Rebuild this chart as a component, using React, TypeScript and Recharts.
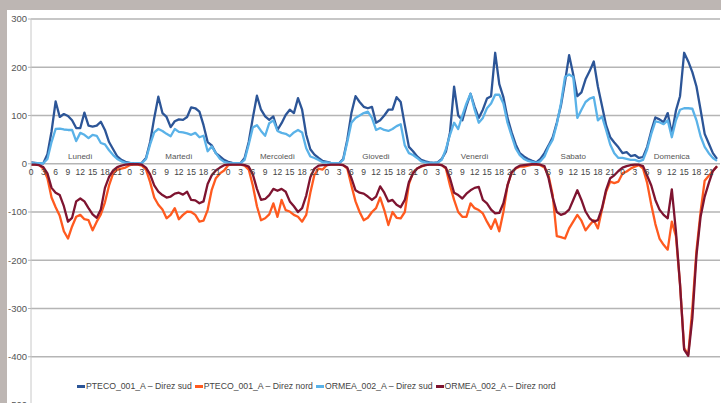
import React from "react";
import {
  LineChart,
  Line,
  XAxis,
  YAxis,
  CartesianGrid,
  Legend,
  ReferenceDot,
} from "recharts";

// one row per day, one value per hour (0..23)
const days = ["Lunedì", "Martedì", "Mercoledì", "Giovedì", "Venerdì", "Sabato", "Domenica"];
const hourTicks = [0, 3, 6, 9, 12, 15, 18, 21];
const yTicks = [-500, -400, -300, -200, -100, 0, 100, 200, 300];

const ptecoSud = [
  [3, 2, 1, 1, 20, 67, 129, 97, 103, 99, 90, 74, 74, 106, 79, 77, 79, 87, 70, 45, 30, 15, 8, 4],
  [2, 1, 1, 2, 12, 45, 95, 139, 105, 97, 76, 88, 92, 91, 97, 117, 115, 108, 80, 45, 38, 22, 15, 8],
  [4, 2, 1, 1, 12, 45, 95, 141, 112, 98, 91, 98, 70, 84, 101, 112, 105, 136, 112, 60, 30, 19, 12, 6],
  [4, 2, 1, 1, 10, 50, 105, 140, 128, 118, 115, 118, 85, 90, 100, 112, 112, 138, 128, 80, 35, 26, 15, 8],
  [5, 3, 2, 3, 10, 25, 65, 160, 100, 90, 120, 145, 118, 95, 112, 135, 140, 230, 165, 138, 95, 65, 40, 22],
  [15, 10, 6, 3, 10, 22, 38, 55, 85, 120, 170, 225, 185, 140, 148, 175, 192, 212, 160, 120, 80, 55, 44, 34],
  [22, 24, 16, 18, 12, 14, 35, 68, 96, 92, 86, 105, 62, 110, 140, 230, 212, 190, 160, 112, 62, 42, 22, 10],
];

const ptecoNord = [
  [-2, -2, -3, -10, -30, -70, -90, -108, -140, -155, -130, -110, -106, -115, -117, -138, -120, -105, -80, -45, -20, -12, -10, -8],
  [-3, -2, -2, -4, -12, -38, -70, -85, -95, -113, -106, -92, -115, -106, -99, -100, -106, -120, -118, -96, -54, -30, -20, -14],
  [-3, -2, -2, -2, -4, -12, -45, -88, -117, -113, -105, -82, -110, -75, -96, -99, -106, -110, -120, -106, -60, -23, -10, -12],
  [-3, -2, -2, -2, -3, -10, -45, -78, -100, -117, -112, -100, -92, -70, -96, -127, -100, -112, -113, -100, -42, -18, -10, -6],
  [-3, -2, -2, -2, -3, -10, -45, -75, -100, -110, -110, -82, -92, -96, -103, -120, -135, -115, -140, -100, -45, -18, -10, -6],
  [-6, -4, -2, -2, -3, -8, -25, -65, -150, -152, -155, -134, -120, -106, -118, -138, -127, -117, -134, -95, -58, -37, -40, -37],
  [-20, -16, -10, -6, -3, -10, -40, -85, -125, -155, -168, -178, -120, -150, -250, -382, -395, -300, -180, -100, -35, -25, -15, -5],
];

const ormeaSud = [
  [2, 1, 1, 1, 10, 45, 72, 73, 71, 70, 70, 47, 64, 60, 53, 60, 58, 43, 40, 28, 18, 10, 5, 2],
  [2, 1, 1, 1, 10, 40, 65, 72, 68, 62, 57, 72, 66, 65, 63, 60, 64, 55, 58, 26, 36, 22, 10, 4],
  [2, 1, 1, 1, 8, 40, 75, 80, 68, 58, 84, 90, 68, 64, 62, 57, 65, 70, 65, 32, 15, 12, 8, 3],
  [3, 1, 1, 1, 8, 45, 85, 95, 100, 105, 108, 95, 70, 74, 70, 68, 72, 78, 82, 38, 22, 18, 12, 5],
  [3, 2, 2, 2, 8, 30, 60, 85, 72, 100, 125, 145, 112, 85, 95, 115, 125, 143, 143, 125, 85, 58, 32, 18],
  [10, 6, 4, 2, 5, 15, 35, 50, 82, 125, 180, 185, 180, 95, 112, 128, 135, 138, 90, 98, 70, 40, 22, 12],
  [12, 10, 8, 8, 5, 8, 30, 62, 88, 86, 82, 90, 55, 90, 112, 115, 115, 114, 90, 57, 35, 22, 12, 6],
];

const ormeaNord = [
  [-2, -2, -3, -7, -20, -50, -60, -65, -88, -120, -112, -78, -72, -78, -92, -105, -112, -95, -50, -27, -14, -7, -4, -2],
  [-1, -1, -1, -2, -8, -22, -45, -58, -65, -70, -68, -62, -60, -64, -58, -75, -76, -82, -78, -42, -24, -14, -8, -3],
  [-2, -2, -2, -2, -3, -6, -22, -52, -75, -73, -65, -52, -56, -52, -58, -78, -88, -100, -92, -66, -28, -10, -4, -3],
  [-3, -2, -2, -2, -3, -8, -30, -55, -60, -62, -68, -75, -68, -47, -60, -78, -75, -85, -90, -75, -38, -20, -10, -5],
  [-3, -2, -2, -2, -3, -8, -30, -60, -65, -72, -62, -55, -50, -48, -75, -82, -95, -103, -102, -82, -45, -18, -9, -4],
  [-3, -2, -1, -1, -2, -5, -30, -70, -100, -106, -103, -95, -75, -55, -75, -99, -113, -120, -117, -92, -54, -30, -24, -15],
  [-8, -5, -3, -2, -2, -5, -25, -45, -75, -95, -106, -113, -53, -140, -250, -385, -398, -320, -190, -110, -68, -40, -15, -5],
];

const series = [
  { key: "ptecoSud", name: "PTECO_001_A – Direz sud", color: "#2c5597", values: ptecoSud },
  { key: "ptecoNord", name: "PTECO_001_A – Direz nord", color: "#ff5a1f", values: ptecoNord },
  { key: "ormeaSud", name: "ORMEA_002_A – Direz sud", color: "#5ab2e8", values: ormeaSud },
  { key: "ormeaNord", name: "ORMEA_002_A – Direz nord", color: "#7e1430", values: ormeaNord },
];

const data = days.flatMap((_, d) =>
  Array.from({ length: 24 }, (_, h) => {
    const row: any = { t: d * 24 + h };
    series.forEach((s) => {
      row[s.key] = s.values[d][h];
    });
    return row;
  })
);

const FONT = '"Liberation Sans", Arial, sans-serif';

// keep the legend in the same order as the series
const renderLegend = (props: any) => {
  const items = [...(props.payload || [])].sort(
    (a: any, b: any) =>
      series.findIndex((s) => s.key === a.dataKey) - series.findIndex((s) => s.key === b.dataKey)
  );
  return (
    <div style={{ display: "flex", alignItems: "center", fontSize: 8.7, color: "#444", whiteSpace: "nowrap" }}>
      {items.map((item: any) => (
        <span key={item.value} style={{ display: "flex", alignItems: "center", marginRight: 3 }}>
          <span style={{ display: "inline-block", width: 8, height: 3, background: item.color, marginRight: 1 }} />
          {item.value}
        </span>
      ))}
    </div>
  );
};

const App = () => {
  return (
    <div
      style={{
        position: "fixed",
        left: 0,
        top: 0,
        width: 721,
        height: 403,
        overflow: "hidden",
        background: "#bdb6b3",
        fontFamily: FONT,
      }}
    >
      <div style={{ position: "absolute", left: 7, top: 10, right: 0, bottom: 0, background: "#fff" }} />
      <div style={{ position: "absolute", left: 0, top: 0 }}>
        <LineChart width={721} height={420} data={data} margin={{ top: 19, right: 1, bottom: 15, left: 0 }}>
          <CartesianGrid vertical={false} stroke="#b5b5b5" strokeWidth={1.4} />
          <XAxis dataKey="t" type="number" domain={[0, 167]} hide padding={{ left: 0, right: 3 }} />
          <YAxis
            type="number"
            domain={[-500, 300]}
            ticks={yTicks}
            interval={0}
            width={31}
            tickSize={3}
            tickMargin={1}
            axisLine={{ stroke: "#c8c8c8" }}
            tickLine={{ stroke: "#b5b5b5" }}
            tick={{ fill: "#555", fontSize: 9.5 }}
          />

          {/* hour labels along the zero line */}
          {days.map((_, d) =>
            hourTicks.map((h) => (
              <ReferenceDot
                key={`h${d}-${h}`}
                x={d * 24 + h}
                y={0}
                r={0}
                fill="none"
                stroke="none"
                ifOverflow="visible"
                label={{ value: String(h), position: "bottom", offset: 5, fill: "#444", fontSize: 8.5 }}
              />
            ))
          )}
          {/* day names above the zero line */}
          {days.map((day, d) => (
            <ReferenceDot
              key={day}
              x={d * 24 + 12}
              y={0}
              r={0}
              fill="none"
              stroke="none"
              ifOverflow="visible"
              label={{ value: day, position: "top", offset: 5, fill: "#555", fontSize: 8 }}
            />
          ))}

          {series.map((s) => (
            <Line
              key={s.key}
              type="linear"
              dataKey={s.key}
              name={s.name}
              stroke={s.color}
              strokeWidth={2.3}
              dot={false}
              strokeLinejoin="round"
              isAnimationActive={false}
            />
          ))}

          <Legend
            layout="vertical"
            align="center"
            verticalAlign="middle"
            content={renderLegend}
            wrapperStyle={{ top: 381, left: 77, width: "auto" }}
          />
        </LineChart>
      </div>
    </div>
  );
};

export default App;
